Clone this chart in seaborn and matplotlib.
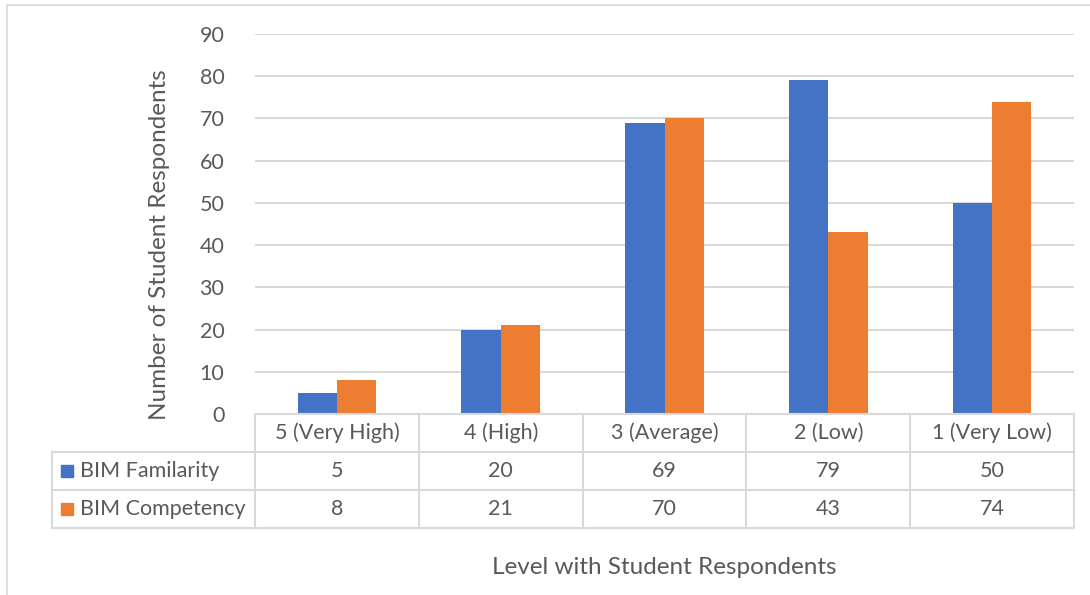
import matplotlib
matplotlib.use("Agg")
import matplotlib.pyplot as plt
import matplotlib.transforms as mtransforms
from matplotlib.patches import Rectangle
from matplotlib.lines import Line2D
import seaborn as sns
import pandas as pd

categories = ["5 (Very High)", "4 (High)", "3 (Average)", "2 (Low)", "1 (Very Low)"]
series_names = ["BIM Familarity", "BIM Competency"]
familiarity = [5, 20, 69, 79, 50]
competency = [8, 21, 70, 43, 74]
y_ticks = [0, 10, 20, 30, 40, 50, 60, 70, 80, 90]

colors = ["#4472C4", "#ED7D31"]
text_color = "#595959"
grid_color = "#D9D9D9"
FONT = "Lato"
FS = 15.5
FS_TITLE = 17.5

sns.set_style("white")
plt.rcParams["font.family"] = [FONT, "DejaVu Sans"]

W, H = 1090, 595
fig = plt.figure(figsize=(W / 100, H / 100), dpi=100)

def fx(px):
    return px / W

def fy(py):
    return 1 - py / H

# plot area in pixels
L, R, T, B = 255, 1074, 34, 414
ax = fig.add_axes([fx(L), fy(B), fx(R - L), (B - T) / H])

df = pd.DataFrame({
    "cat": categories * 2,
    "series": [series_names[0]] * 5 + [series_names[1]] * 5,
    "val": familiarity + competency,
})
sns.barplot(data=df, x="cat", y="val", hue="series", palette=colors,
            width=0.48, ax=ax, legend=False, saturation=1, edgecolor="none")

ax.set_xlim(-0.5, len(categories) - 0.5)
ax.set_ylim(0, 90)
ax.set_yticks(y_ticks)
ax.set_yticklabels([str(v) for v in y_ticks], color=text_color, fontsize=FS)
ax.tick_params(axis="y", length=0, pad=22)
ax.set_xticks([])
ax.set_xlabel("")
ax.set_ylabel("")
for s in ax.spines.values():
    s.set_visible(False)
ax.yaxis.grid(True, color=grid_color, linewidth=1.5)
ax.set_axisbelow(True)

# Data table below the axes
trans = mtransforms.blended_transform_factory(ax.transData, fig.transFigure)
lw = 1.5
row_y = [414, 452, 490, 528]
for i, py in enumerate(row_y):
    fig.add_artist(Line2D([fx(L), fx(R)], [fy(py), fy(py)], color=grid_color, lw=lw))
    if i >= 1:
        fig.add_artist(Line2D([fx(52), fx(L)], [fy(py), fy(py)], color=grid_color, lw=lw))
for k in range(len(categories) + 1):
    xv = k - 0.5
    fig.add_artist(Line2D([xv, xv], [fy(414), fy(528)], color=grid_color, lw=lw, transform=trans))
fig.add_artist(Line2D([fx(52), fx(52)], [fy(452), fy(528)], color=grid_color, lw=lw))

for k, c in enumerate(categories):
    fig.text(k, fy(433), c, transform=trans, ha="center", va="center",
             color=text_color, fontsize=FS)
for r, vals in enumerate([familiarity, competency]):
    yc = fy((row_y[r + 1] + row_y[r + 2]) / 2)
    for k, v in enumerate(vals):
        fig.text(k, yc, str(v), transform=trans, ha="center", va="center",
                 color=text_color, fontsize=FS)
    fig.add_artist(Rectangle((fx(61), yc - 6 / H), 12 / W, 12 / H, color=colors[r],
                             transform=fig.transFigure))
    fig.text(fx(80), yc, series_names[r], ha="left", va="center",
             color=text_color, fontsize=FS)

# axis titles
fig.text(fx(160), fy(245), "Number of Student Respondents", rotation=90,
         ha="center", va="center", color=text_color, fontsize=FS_TITLE)
fig.text(fx((L + R) / 2), fy(568), "Level with Student Respondents",
         ha="center", va="center", color=text_color, fontsize=FS_TITLE)

# chart border
fig.add_artist(Line2D([fx(7), fx(1090)], [fy(5), fy(5)], color=grid_color, lw=1.2))
fig.add_artist(Line2D([fx(7), fx(7)], [fy(5), fy(595)], color=grid_color, lw=1.2))

fig.savefig("out.png", dpi=100)
